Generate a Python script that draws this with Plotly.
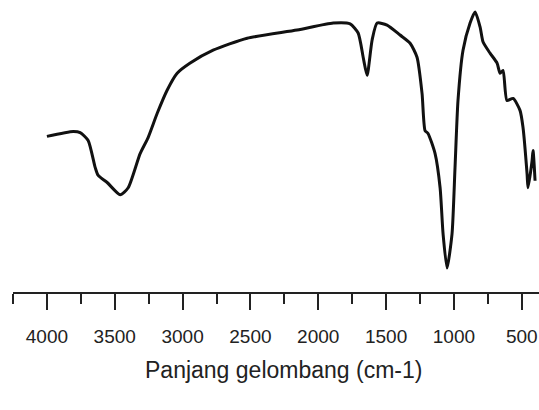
import plotly.graph_objects as go

wavenumber = [4000, 3806, 3755, 3696, 3644, 3622, 3556, 3460, 3401, 3313, 3254, 3187,
              3114, 3040, 2944, 2775, 2524, 2156, 1890, 1765, 1706, 1669, 1640, 1603,
              1566, 1493, 1397, 1323, 1272, 1235, 1213, 1191, 1139, 1102, 1080, 1051,
              1014, 992, 970, 933, 881, 844, 807, 785, 734, 682, 660, 638, 609, 564,
              513, 491, 461, 454, 424, 417, 402]
transmittance = [53.3, 55.0, 54.6, 51.9, 42.6, 39.9, 37.5, 33.3, 35.7, 47.4, 52.9, 61.2,
                 69.1, 74.9, 78.4, 82.8, 86.9, 89.7, 92.1, 91.8, 88.7, 80.4, 74.2, 86.3,
                 92.1, 91.4, 88.0, 85.2, 80.4, 68.0, 55.3, 54.3, 47.4, 35.7, 19.9, 8.2,
                 19.9, 42.6, 65.6, 82.8, 92.1, 95.9, 90.7, 85.6, 81.8, 78.4, 74.9, 75.9,
                 65.6, 66.3, 62.2, 56.4, 40.5, 35.7, 45.0, 48.5, 38.1]
tick_values = [4000, 3500, 3000, 2500, 2000, 1500, 1000, 500]
tick_labels = ["4000", "3500", "3000", "2500", "2000", "1500", "1000", "500"]
x_title = "Panjang gelombang (cm-1)"

font_family = "Liberation Sans, Arial, sans-serif"

fig = go.Figure()
fig.add_trace(go.Scatter(
    x=wavenumber, y=transmittance, mode="lines",
    line=dict(color="#111111", width=3, shape="spline", smoothing=0.6),
    showlegend=False, hoverinfo="skip"))

fig.update_layout(
    width=539, height=410,
    margin=dict(l=13, r=0, t=0, b=118),
    paper_bgcolor="white", plot_bgcolor="white",
    font=dict(family=font_family, color="#222222"),
    xaxis=dict(
        range=[4250, 373], showgrid=False, zeroline=False, automargin=False,
        showline=True, linecolor="#222222", linewidth=2,
        tickmode="array", tickvals=tick_values, ticktext=tick_labels,
        ticks="outside", ticklen=16, tickwidth=2, tickcolor="#222222",
        ticklabelstandoff=10,
        tickfont=dict(size=19, color="#222222", family=font_family),
        minor=dict(dtick=250, tick0=250, ticks="outside", ticklen=10, tickwidth=2, tickcolor="#222222"),
    ),
    yaxis=dict(range=[0, 100], visible=False, fixedrange=True),
    annotations=[dict(
        text=x_title, xref="paper", yref="paper", x=0.515, y=-0.267,
        xanchor="center", yanchor="middle", showarrow=False,
        font=dict(size=23, color="#222222", family=font_family))],
)

fig.write_html("out.html", config={"displayModeBar": False},
               post_script="document.body.style.margin='0';")
